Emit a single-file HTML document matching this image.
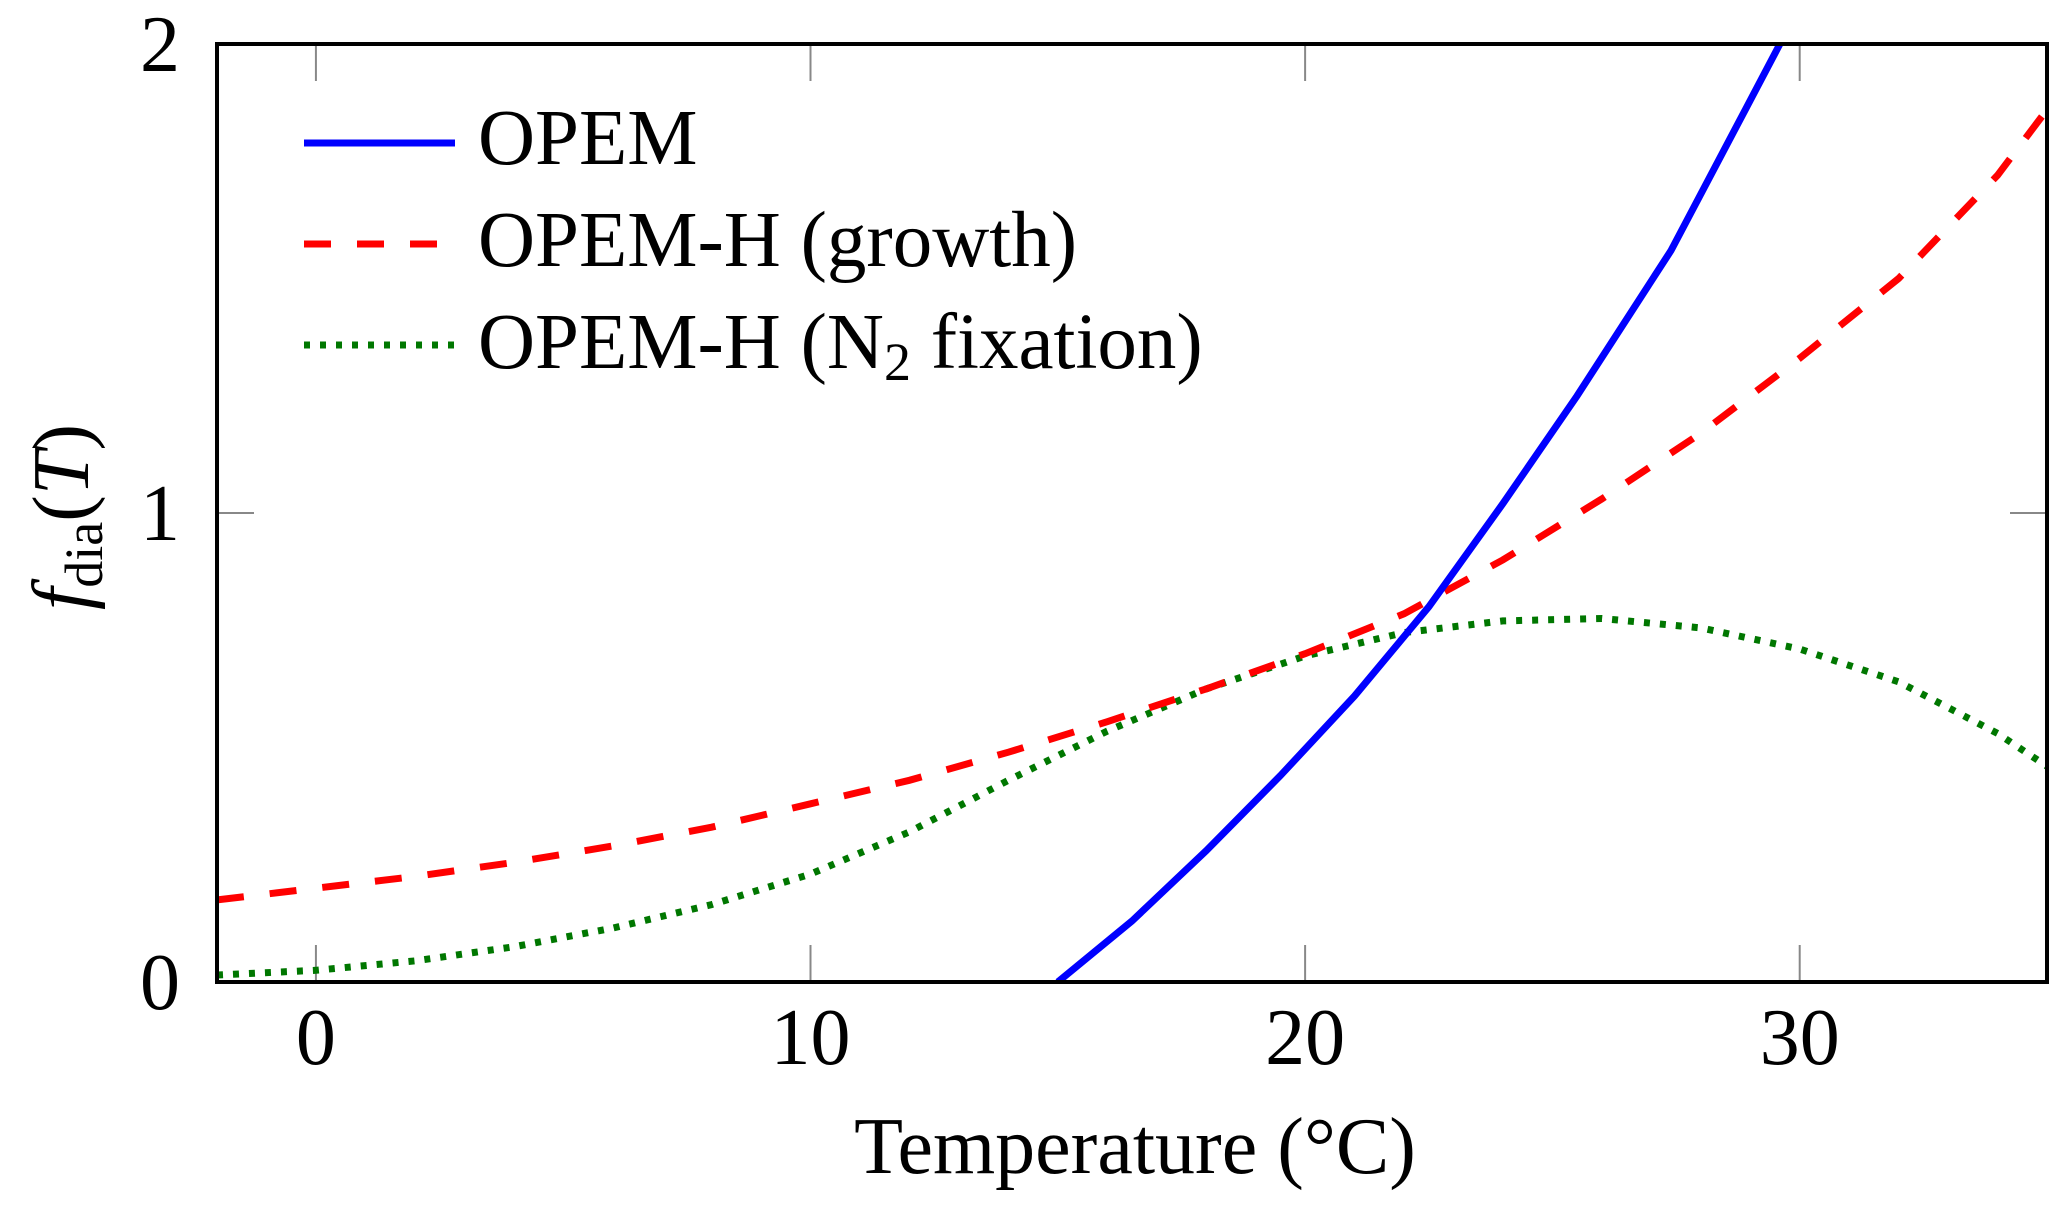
<!DOCTYPE html>
<html><head><meta charset="utf-8"><style>
html,body{margin:0;padding:0;background:#fff}
svg text{font-family:"Liberation Serif",serif;fill:#000}
</style></head><body>
<svg id="chart" width="2067" height="1207" viewBox="0 0 2067 1207" xmlns="http://www.w3.org/2000/svg">
<g id="grid"></g>
<g id="series"></g>
<rect x="217" y="44" width="1830" height="938" fill="none" stroke="#000" stroke-width="4"/>
<g id="labels"></g>
<text x="1135" y="1173" font-size="80" text-anchor="middle">Temperature (°C)</text>
<text transform="translate(88,517) rotate(-90)" font-size="80" text-anchor="middle"><tspan font-style="italic">f</tspan><tspan font-size="54" dy="14">dia</tspan><tspan dy="-14">(</tspan><tspan font-style="italic">T</tspan><tspan>)</tspan></text>
<g>
<line x1="304" y1="143" x2="455" y2="143" stroke="#0000ff" stroke-width="7"/>
<text x="478" y="164" font-size="79">OPEM</text>
<line x1="304" y1="244" x2="455" y2="244" stroke="#ff0000" stroke-width="7" stroke-dasharray="27 26"/>
<text x="478" y="266" font-size="79">OPEM-H (growth)</text>
<line x1="304" y1="345" x2="455" y2="345" stroke="#007700" stroke-width="7" stroke-dasharray="6 10"/>
<text x="478" y="368" font-size="79">OPEM-H (N<tspan font-size="54" dy="12">2</tspan><tspan dy="-12"> fixation)</tspan></text>
</g>
</svg>
<script>
const xTicks=[0,10,20,30];
const yTicks=[0,1,2];
const opemT=[15,16.5,18,19.5,21,22.5,24,25.5,27.4,28.9,29.6];
const opemV=[0,0.13,0.28,0.44,0.61,0.8,1.02,1.25,1.56,1.86,2.0];
const growthT=[-2,0,2,4,6,8,10,12,14,16,18,20,22,24,26,28,30,32,34,35];
const growthV=[0.175,0.2,0.225,0.255,0.29,0.33,0.38,0.43,0.49,0.555,0.625,0.7,0.785,0.9,1.03,1.17,1.33,1.5,1.72,1.86];
const n2T=[-2,0,2,4,6,8,10,12,14,16,18,20,22,24,26,28,30,32,34,35];
const n2V=[0.015,0.025,0.045,0.075,0.115,0.165,0.23,0.32,0.43,0.535,0.625,0.695,0.745,0.77,0.775,0.755,0.71,0.64,0.53,0.46];
const X0=217,X1=2047,Y0=982,Y1=44,xmin=-2,xmax=35,ymin=0,ymax=2;
function sx(v){return X0+(v-xmin)/(xmax-xmin)*(X1-X0);}
function sy(v){return Y0-(v-ymin)/(ymax-ymin)*(Y0-Y1);}
const NS='http://www.w3.org/2000/svg';
const grid=document.getElementById('grid'),labels=document.getElementById('labels'),series=document.getElementById('series');
function mk(tag,attrs,parent){const e=document.createElementNS(NS,tag);for(const k in attrs)e.setAttribute(k,attrs[k]);parent.appendChild(e);return e;}
xTicks.forEach(t=>{
  const a=mk('line',{x1:sx(t),x2:sx(t),y1:Y0,y2:Y0-37,stroke:'#888','stroke-width':2},grid);
  
  
  const b=mk('line',{x1:sx(t),x2:sx(t),y1:Y1,y2:Y1+37,stroke:'#888','stroke-width':2},grid);
  
  
  const l=mk('text',{x:sx(t),y:1064,'font-size':80,'text-anchor':'middle'},labels);
  l.textContent=t;
  
  
});
yTicks.forEach(t=>{
  const a=mk('line',{x1:X0,x2:X0+37,y1:sy(t),y2:sy(t),stroke:'#888','stroke-width':2},grid);
  
  
  const b=mk('line',{x1:X1,x2:X1-37,y1:sy(t),y2:sy(t),stroke:'#888','stroke-width':2},grid);
  
  
  const l=mk('text',{x:180,y:sy(t)+27,'font-size':80,'text-anchor':'end'},labels);
  l.textContent=t;
  
  
});
function pathD(T,V){return T.map((t,i)=>(i?'L':'M')+sx(t).toFixed(1)+','+sy(V[i]).toFixed(1)).join(' ');}
const clip=mk('clipPath',{id:'pc'},mk('defs',{},series));
mk('rect',{x:X0,y:Y1,width:X1-X0,height:Y0-Y1},clip);
const g=mk('g',{'clip-path':'url(#pc)'},series);
const p1=mk('path',{d:pathD(n2T,n2V),fill:'none',stroke:'#007700','stroke-width':7,'stroke-dasharray':'6 10'},g);


const p2=mk('path',{d:pathD(growthT,growthV),fill:'none',stroke:'#ff0000','stroke-width':7,'stroke-dasharray':'27 26'},g);


const p3=mk('path',{d:pathD(opemT,opemV),fill:'none',stroke:'#0000ff','stroke-width':7},g);


</script>
</body></html>
